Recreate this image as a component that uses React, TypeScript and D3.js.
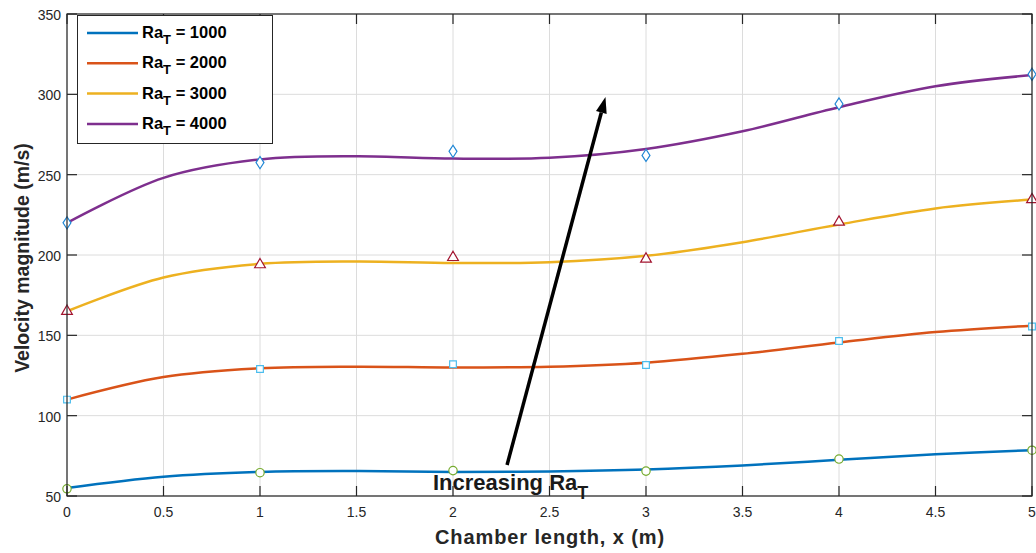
import { useEffect, useRef } from "react";
import * as d3 from "d3";

// fitted curves, every 0.5 m
const curveX = [0, 0.5, 1, 1.5, 2, 2.5, 3, 3.5, 4, 4.5, 5];
const curve1000 = [55, 62, 65, 65.5, 65, 65.3, 66.5, 69, 72.5, 76, 78.5];
const curve2000 = [110, 124, 129.5, 130.5, 130, 130.5, 133, 138.5, 145.5, 152, 156];
const curve3000 = [165, 186, 194.5, 196, 195, 195.5, 199.5, 208, 219, 229, 234.5];
const curve4000 = [220, 248, 259.5, 261.5, 260, 260.5, 266, 277, 292, 305, 312];

// simulated points
const pointX = [0, 1, 2, 3, 4, 5];
const points1000 = [54.5, 64.5, 65.8, 65.5, 73, 78.5];
const points2000 = [110, 129, 132, 131.5, 146.5, 155.5];
const points3000 = [165, 194, 198.5, 197.5, 220.5, 234.5];
const points4000 = [220, 257.5, 264.5, 262, 294, 312.5];

const legendLabels = ["1000", "2000", "3000", "4000"];
const lineColors = ["#0072BD", "#D95319", "#EDB120", "#7E2F8E"];
const markerColors = ["#77AC30", "#4DBEEE", "#A2142F", "#1F86D4"];
const markerShapes = ["circle", "square", "triangle", "diamond"];

const xTicks = [0, 0.5, 1, 1.5, 2, 2.5, 3, 3.5, 4, 4.5, 5];
const yTicks = [50, 100, 150, 200, 250, 300, 350];

export default function App() {
    const ref = useRef<SVGSVGElement>(null);

    useEffect(() => {
        const W = 1036, H = 553;
        const left = 67, right = 1032, top = 14, bottom = 496;
        const svg = d3.select(ref.current);
        svg.selectAll("*").remove();
        svg.attr("width", W).attr("height", H);

        const x = d3.scaleLinear().domain([0, 5]).range([left, right]);
        const y = d3.scaleLinear().domain([50, 350]).range([bottom, top]);
        const font = "'Liberation Sans', Arial, sans-serif";

        svg.append("rect").attr("width", W).attr("height", H).attr("fill", "white");

        // grid
        const grid = svg.append("g").attr("stroke", "#dcdcdc").attr("stroke-width", 1);
        xTicks.forEach((t) => {
            grid.append("line").attr("x1", x(t)).attr("x2", x(t)).attr("y1", top).attr("y2", bottom);
        });
        yTicks.forEach((t) => {
            grid.append("line").attr("x1", left).attr("x2", right).attr("y1", y(t)).attr("y2", y(t));
        });

        // curves
        const curves = [curve1000, curve2000, curve3000, curve4000];
        const line = d3.line<number>()
            .x((d, i) => x(curveX[i]))
            .y((d) => y(d))
            .curve(d3.curveCatmullRom.alpha(0.5));
        curves.forEach((c, k) => {
            svg.append("path").attr("d", line(c))
                .attr("fill", "none").attr("stroke", lineColors[k]).attr("stroke-width", 2.5);
        });

        // markers
        const symbols: Record<string, d3.SymbolType> = {
            circle: d3.symbolCircle,
            square: d3.symbolSquare,
            triangle: d3.symbolTriangle,
            diamond: d3.symbolDiamond,
        };
        const sizes: Record<string, number> = { circle: 55, square: 45, triangle: 50, diamond: 55 };
        [points1000, points2000, points3000, points4000].forEach((p, k) => {
            const shape = markerShapes[k];
            const sym = d3.symbol().type(symbols[shape]).size(sizes[shape]);
            p.forEach((v, i) => {
                svg.append("path").attr("d", sym())
                    .attr("transform", `translate(${x(pointX[i])},${y(v)})` + (shape === "diamond" ? " scale(1,0.88)" : ""))
                    .attr("fill", "white").attr("stroke", markerColors[k]).attr("stroke-width", 1.2);
            });
        });

        // axes box with inward ticks
        const ax = svg.append("g").attr("stroke", "#262626").attr("stroke-width", 1.2).attr("fill", "none");
        ax.append("rect").attr("x", left).attr("y", top).attr("width", right - left).attr("height", bottom - top);
        xTicks.forEach((t) => {
            ax.append("line").attr("x1", x(t)).attr("x2", x(t)).attr("y1", bottom).attr("y2", bottom - 10);
            ax.append("line").attr("x1", x(t)).attr("x2", x(t)).attr("y1", top).attr("y2", top + 10);
        });
        yTicks.forEach((t) => {
            ax.append("line").attr("x1", left).attr("x2", left + 10).attr("y1", y(t)).attr("y2", y(t));
            ax.append("line").attr("x1", right).attr("x2", right - 10).attr("y1", y(t)).attr("y2", y(t));
        });

        // tick labels
        xTicks.forEach((t) => {
            svg.append("text").attr("x", x(t)).attr("y", bottom + 21)
                .attr("text-anchor", "middle").attr("font-family", font).attr("font-size", 14)
                .attr("fill", "#262626").text(String(t));
        });
        yTicks.forEach((t) => {
            svg.append("text").attr("x", left - 6).attr("y", y(t) + 6)
                .attr("text-anchor", "end").attr("font-family", font).attr("font-size", 14)
                .attr("fill", "#262626").text(String(t));
        });

        // axis titles
        svg.append("text").attr("x", 550).attr("y", 544)
            .attr("text-anchor", "middle").attr("font-family", font).attr("font-size", 20)
            .attr("letter-spacing", 0.9)
            .attr("font-weight", "bold").attr("fill", "#262626").text("Chamber length, x (m)");
        svg.append("text").attr("transform", `translate(29,258) rotate(-90)`)
            .attr("text-anchor", "middle").attr("font-family", font).attr("font-size", 19.5)
            .attr("font-weight", "bold").attr("fill", "#262626").text("Velocity magnitude (m/s)");

        // arrow annotation
        const ax0 = x(2.28), ay0 = y(69.3), ax1 = x(2.79), ay1 = y(298.3);
        const ang = Math.atan2(ay1 - ay0, ax1 - ax0);
        const hl = 16, hw = 5.5;
        const bx = ax1 - hl * Math.cos(ang), by = ay1 - hl * Math.sin(ang);
        svg.append("line").attr("x1", ax0).attr("y1", ay0).attr("x2", bx).attr("y2", by)
            .attr("stroke", "black").attr("stroke-width", 3.5);
        svg.append("path")
            .attr("d", `M${ax1},${ay1} L${bx + hw * Math.sin(ang)},${by - hw * Math.cos(ang)} L${bx - hw * Math.sin(ang)},${by + hw * Math.cos(ang)} Z`)
            .attr("fill", "black");
        const ann = svg.append("text").attr("x", 433).attr("y", 490)
            .attr("font-family", font).attr("font-size", 22).attr("font-weight", "bold").attr("fill", "#1a1a1a");
        ann.append("tspan").text("Increasing Ra");
        ann.append("tspan").attr("dy", 9).attr("font-size", 18).text("T");

        // legend
        const lg = svg.append("g");
        lg.append("rect").attr("x", 77.5).attr("y", 15.5).attr("width", 195).attr("height", 128)
            .attr("fill", "white").attr("stroke", "#262626").attr("stroke-width", 1);
        legendLabels.forEach((lab, k) => {
            const ly = 33 + k * 30.3;
            lg.append("line").attr("x1", 87).attr("x2", 138).attr("y1", ly).attr("y2", ly)
                .attr("stroke", lineColors[k]).attr("stroke-width", 2.5);
            const t = lg.append("text").attr("x", 142).attr("y", ly + 5)
                .attr("font-family", font).attr("font-size", 16.5).attr("font-weight", "bold").attr("fill", "#000");
            t.append("tspan").text("Ra");
            t.append("tspan").attr("dy", 6).attr("font-size", 13).text("T");
            t.append("tspan").attr("dy", -6).text(" = " + lab);
        });
    }, []);

    return <svg ref={ref} style={{ position: "absolute", left: 0, top: 0 }} />;
}
